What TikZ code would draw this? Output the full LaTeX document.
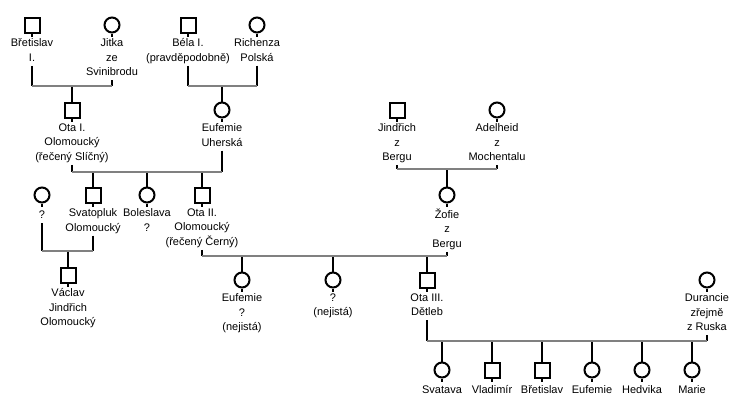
\documentclass[tikz,border=0pt]{standalone}
\usepackage{fontspec}
\setmainfont{Liberation Sans}
\usetikzlibrary{positioning}

\begin{document}
\begin{tikzpicture}[x=1pt, y=-1pt,
    male/.style={draw, line width=2pt, minimum size=15pt, inner sep=0pt},
    female/.style={male, circle},
    who/.style={below=5pt of #1, align=center, inner sep=0pt,
        font=\fontsize{11}{14.5}\selectfont,
        execute at begin node=\strut, execute at end node=\strut},
    kin/.style={line width=2pt},
    wed/.style={line width=2.5pt, gray}]
    \useasboundingbox (0,0) rectangle (739,415);
    % first generation
    \node[male] (bret) at (32,25) {};
    \node[who=bret] (bret-t) {Břetislav\\I.};
    \node[female] (jitka) at (112,25) {};
    \node[who=jitka] (jitka-t) {Jitka\\ze\\Svinibrodu};
    \node[male] (bela) at (188,25) {};
    \node[who=bela] (bela-t) {Béla I.\\(pravděpodobně)};
    \node[female] (rich) at (257,25) {};
    \node[who=rich] (rich-t) {Richenza\\Polská};
    % second generation
    \node[male] (ota1) at (72,110) {};
    \node[who=ota1] (ota1-t) {Ota I.\\Olomoucký\\(řečený Slíčný)};
    \node[female] (eufU) at (222,110) {};
    \node[who=eufU] (eufU-t) {Eufemie\\Uherská};
    \node[male] (jind) at (397,110) {};
    \node[who=jind] (jind-t) {Jindřich\\z\\Bergu};
    \node[female] (adel) at (497,110) {};
    \node[who=adel] (adel-t) {Adelheid\\z\\Mochentalu};
    % third generation
    \node[female] (anon) at (42,195) {};
    \node[who=anon] (anon-t) {?};
    \node[male] (svat) at (93,195) {};
    \node[who=svat] (svat-t) {Svatopluk\\Olomoucký};
    \node[female] (bol) at (147,195) {};
    \node[who=bol] (bol-t) {Boleslava\\?};
    \node[male] (ota2) at (202,195) {};
    \node[who=ota2] (ota2-t) {Ota II.\\Olomoucký\\(řečený Černý)};
    \node[female] (zofie) at (447,195) {};
    \node[who=zofie] (zofie-t) {Žofie\\z\\Bergu};
    % fourth generation
    \node[male] (vacl) at (68,275) {};
    \node[who=vacl] (vacl-t) {Václav\\Jindřich\\Olomoucký};
    \node[female] (eufN) at (242,280) {};
    \node[who=eufN] (eufN-t) {Eufemie\\?\\(nejistá)};
    \node[female] (anonN) at (333,280) {};
    \node[who=anonN] (anonN-t) {?\\(nejistá)};
    \node[male] (ota3) at (427,280) {};
    \node[who=ota3] (ota3-t) {Ota III.\\Dětleb};
    \node[female] (dur) at (707,280) {};
    \node[who=dur] (dur-t) {Durancie\\zřejmě\\z Ruska};
    % fifth generation
    \node[female] (svatava) at (442,370) {};
    \node[who=svatava] (svatava-t) {Svatava};
    \node[male] (vlad) at (492,370) {};
    \node[who=vlad] (vlad-t) {Vladimír};
    \node[male] (bret2) at (542,370) {};
    \node[who=bret2] (bret2-t) {Břetislav};
    \node[female] (euf3) at (592,370) {};
    \node[who=euf3] (euf3-t) {Eufemie};
    \node[female] (hedv) at (642,370) {};
    \node[who=hedv] (hedv-t) {Hedvika};
    \node[female] (marie) at (692,370) {};
    \node[who=marie] (marie-t) {Marie};
    % marriage lines
    \coordinate (m1) at (0,86);
    \coordinate (m3) at (0,172);
    \coordinate (m4) at (0,169);
    \coordinate (m5) at (0,251);
    \coordinate (m6) at (0,256);
    \coordinate (m7) at (0,341);
    \foreach \p in {bret,jitka,bela,rich,ota1,eufU,jind,adel,anon,svat,bol,ota2,
        zofie,vacl,eufN,anonN,ota3,dur,svatava,vlad,bret2,euf3,hedv,marie}
        \draw[kin] (\p.south) -- ++(0pt,-3pt);
    \foreach \p/\m in {bret/m1,jitka/m1,bela/m1,rich/m1,ota1/m3,eufU/m3,jind/m4,
        adel/m4,anon/m5,svat/m5,ota2/m6,zofie/m6,ota3/m7,dur/m7}
        \draw[kin] (\p-t.south) -- (\p-t.south |- \m);
    \foreach \c/\m in {ota1/m1,eufU/m1,svat/m3,bol/m3,ota2/m3,zofie/m4,vacl/m5,
        eufN/m6,anonN/m6,ota3/m6,svatava/m7,vlad/m7,bret2/m7,euf3/m7,hedv/m7,marie/m7}
        \draw[kin] (\c |- \m) -- (\c.north);
    \foreach \a/\b/\m in {bret/jitka/m1,bela/rich/m1,ota1/eufU/m3,jind/adel/m4,
        anon/svat/m5,ota2/zofie/m6,ota3/dur/m7}
        \draw[wed] (\a |- \m) -- (\b |- \m);
\end{tikzpicture}
\end{document}
